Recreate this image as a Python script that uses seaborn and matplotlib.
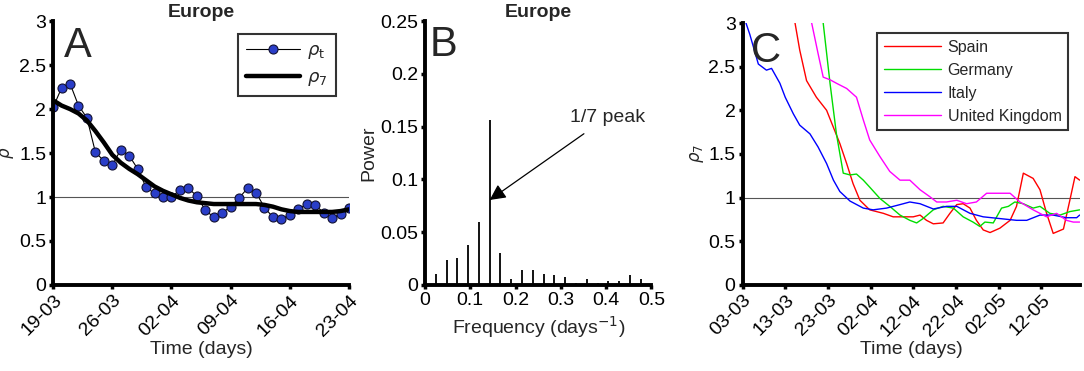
import numpy as np
import pandas as pd
import matplotlib
matplotlib.use("Agg")
import matplotlib.pyplot as plt
import seaborn as sns

# ---- Panel A: Europe rho_t and rho_7 (days since 19-03)
days_a = list(range(36))
rho_t = [2.02, 2.24, 2.29, 2.04, 1.90, 1.51, 1.41, 1.36, 1.54, 1.47, 1.32, 1.11,
         1.04, 1.00, 1.00, 1.08, 1.10, 1.01, 0.85, 0.77, 0.82, 0.89, 0.99, 1.10,
         1.05, 0.88, 0.77, 0.75, 0.80, 0.86, 0.92, 0.91, 0.82, 0.76, 0.81, 0.87]
rho_7 = [2.10, 2.04, 2.00, 1.95, 1.87, 1.75, 1.62, 1.48, 1.39, 1.32, 1.26, 1.19,
         1.12, 1.07, 1.03, 0.99, 0.96, 0.94, 0.93, 0.92, 0.92, 0.92, 0.92, 0.92,
         0.92, 0.91, 0.89, 0.86, 0.84, 0.83, 0.83, 0.83, 0.83, 0.83, 0.84, 0.86]
ticks_a = [0, 7, 14, 21, 28, 35]
labels_a = ["19-03", "26-03", "02-04", "09-04", "16-04", "23-04"]

# ---- Panel B: power spectrum
freq_b = [k / 42 for k in range(1, 21)]
power_b = [0.0105, 0.024, 0.0255, 0.038, 0.060, 0.156, 0.030, 0.0057, 0.0143, 0.0137,
           0.0105, 0.0096, 0.0073, 0.002, 0.0054, 0.0016, 0.0038, 0.0038, 0.0096, 0.0057]

# ---- Panel C: rho_7 by country (days since 03-03)
italy_d = [0.8, 1.7, 3.7, 5.6, 6.8, 8.75, 10, 11.9, 13.4, 15.8, 17.7, 19.7, 21.3, 22.8,
           25.2, 28.3, 30.6, 33.75, 36.9, 39.2, 41.6, 44.7, 47.8, 50.2, 53.3, 56.4,
           60.3, 64.2, 66.6, 69.7, 72.8, 75.9, 78.3, 79]
italy_v = [3.0, 2.87, 2.53, 2.46, 2.48, 2.31, 2.15, 1.96, 1.83, 1.73, 1.58, 1.39, 1.20, 1.07,
           0.96, 0.88, 0.86, 0.88, 0.92, 0.95, 0.93, 0.87, 0.90, 0.90, 0.82, 0.78,
           0.76, 0.74, 0.74, 0.80, 0.80, 0.77, 0.77, 0.80]
spain_d = [12.3, 13.4, 15, 17.3, 19.7, 21.25, 22.8, 24.4, 25.9, 27.5, 29.8, 33, 35.3, 37.7,
           40, 41.6, 43.1, 44.7, 47, 48.6, 50.2, 51.7, 53.3, 54.8, 56.4, 58, 60.3, 62.7,
           64.2, 65.8, 68.1, 69.7, 71.25, 72.8, 75.2, 76.7, 77.9, 79]
spain_v = [3.0, 2.69, 2.34, 2.15, 2.0, 1.81, 1.62, 1.39, 1.16, 0.97, 0.86, 0.82, 0.78, 0.78,
           0.78, 0.80, 0.74, 0.70, 0.71, 0.82, 0.92, 0.93, 0.88, 0.74, 0.63, 0.60, 0.65, 0.74,
           0.90, 1.28, 1.22, 1.09, 0.82, 0.59, 0.64, 0.97, 1.24, 1.20]
germany_d = [18.9, 20.5, 22, 23.6, 25.2, 26.7, 28.3, 29.8, 32.2, 34.5, 36.9, 39.2, 40.8,
             42.3, 44.7, 47, 49.4, 51.7, 54, 55.6, 56.8, 58.75, 60.7, 62.3, 63.8, 65.8,
             68.1, 69.7, 72, 74.4, 76.7, 79]
germany_v = [3.0, 2.31, 1.73, 1.28, 1.26, 1.27, 1.20, 1.12, 0.99, 0.90, 0.80, 0.74, 0.71,
             0.76, 0.86, 0.90, 0.88, 0.78, 0.72, 0.67, 0.72, 0.71, 0.88, 0.90, 0.95, 0.93,
             0.88, 0.90, 0.82, 0.80, 0.84, 0.86]
uk_d = [16.2, 17.7, 18.9, 20.5, 22, 24.4, 26.7, 28.3, 29.8, 32.2, 34.5, 36.9, 39.2, 41.6,
        43.9, 45.5, 47.8, 50.2, 52.5, 54.8, 57.2, 60.3, 62.7, 65, 68.1, 71.25, 73.6, 75.9,
        77.5, 79]
uk_v = [3.0, 2.65, 2.38, 2.35, 2.31, 2.25, 2.15, 1.89, 1.66, 1.47, 1.30, 1.20, 1.20, 1.09,
        1.01, 0.95, 0.95, 0.97, 0.93, 0.95, 1.05, 1.05, 1.05, 0.95, 0.86, 0.78, 0.82, 0.74,
        0.72, 0.72]
ticks_c = [0, 10, 20, 30, 40, 50, 60, 70]
labels_c = ["03-03", "13-03", "23-03", "02-04", "12-04", "22-04", "02-05", "12-05"]

sns.set_theme(style="ticks")
plt.rcParams["font.family"] = ["Liberation Sans", "DejaVu Sans"]
plt.rcParams["mathtext.fontset"] = "dejavusans"

FS = 14

fig = plt.figure(figsize=(10.84, 3.71), dpi=100)
axA = fig.add_axes([0.049, 0.232, 0.273, 0.711])
axB = fig.add_axes([0.392, 0.232, 0.209, 0.711])
axC = fig.add_axes([0.685, 0.232, 0.311, 0.706])


def style_axes(ax):
    sns.despine(ax=ax)
    for side in ["left", "bottom"]:
        ax.spines[side].set_linewidth(2.8)
        ax.spines[side].set_color("black")
    ax.tick_params(axis="both", direction="out", length=3, width=2.5,
                   labelsize=FS, colors="black", pad=2)
    ax.set_facecolor("white")


# Panel A
df_a = pd.DataFrame({"day": days_a, "rho_t": rho_t, "rho_7": rho_7})
axA.axhline(1, color="#555555", lw=0.8, zorder=1)
sns.lineplot(data=df_a, x="day", y="rho_t", ax=axA, color="black", lw=0.8,
             marker="o", markersize=6.5, markerfacecolor="#2a3ec8",
             markeredgecolor="#111133", markeredgewidth=0.8, label=r"$\rho_{\mathrm{t}}$")
sns.lineplot(data=df_a, x="day", y="rho_7", ax=axA, color="black", lw=3.2,
             label=r"$\rho_7$")
axA.set_xlim(0, 35)
axA.set_ylim(0, 3)
axA.set_xticks(ticks_a)
axA.set_xticklabels(labels_a, rotation=45, ha="right", rotation_mode="anchor")
axA.set_yticks([0, 0.5, 1, 1.5, 2, 2.5, 3])
axA.set_yticklabels(["0", "0.5", "1", "1.5", "2", "2.5", "3"])
axA.set_xlabel("Time (days)", fontsize=FS, labelpad=1)
axA.set_ylabel(r"$\rho$", fontsize=12)
axA.yaxis.set_label_coords(-0.125, 0.5)
axA.set_title("Europe", fontsize=FS, fontweight="bold", pad=3)
style_axes(axA)
leg = axA.legend(loc="upper right", bbox_to_anchor=(0.955, 0.951), borderaxespad=0,
                 frameon=True, fancybox=False, edgecolor="black", fontsize=13,
                 handlelength=3.0, borderpad=0.45, labelspacing=0.45, handletextpad=0.4)
leg.get_frame().set_linewidth(1.5)
axA.text(0.035, 0.98, "A", transform=axA.transAxes, fontsize=30, va="top", ha="left")

# Panel B
axB.vlines(freq_b, 0, power_b, color="black", lw=1.3)
axB.set_xlim(0, 0.5)
axB.set_ylim(0, 0.25)
axB.set_xticks([0, 0.1, 0.2, 0.3, 0.4, 0.5])
axB.set_xticklabels(["0", "0.1", "0.2", "0.3", "0.4", "0.5"])
axB.set_yticks([0, 0.05, 0.1, 0.15, 0.2, 0.25])
axB.set_yticklabels(["0", "0.05", "0.1", "0.15", "0.2", "0.25"])
axB.set_xlabel(r"Frequency (days$^{-1}$)", fontsize=FS, labelpad=4)
axB.set_ylabel("Power", fontsize=FS, labelpad=2)
axB.set_title("Europe", fontsize=FS, fontweight="bold", pad=3)
style_axes(axB)
axB.annotate("1/7 peak", xy=(1 / 7, 0.0805), xytext=(0.32, 0.159),
             fontsize=FS, ha="left", va="center",
             arrowprops=dict(arrowstyle="-|>", color="black", lw=0.9,
                             mutation_scale=24, shrinkA=6, shrinkB=0))
axB.text(0.02, 0.985, "B", transform=axB.transAxes, fontsize=30, va="top", ha="left")

# Panel C
axC.axhline(1, color="#555555", lw=0.8, zorder=1)
countries = [("Spain", spain_d, spain_v, "#ff0000"),
             ("Germany", germany_d, germany_v, "#00dd00"),
             ("Italy", italy_d, italy_v, "#0000ff"),
             ("United Kingdom", uk_d, uk_v, "#ff00ff")]
for name, d, v, col in countries:
    sns.lineplot(x=d, y=v, ax=axC, color=col, lw=1.0, label=name)
axC.set_xlim(0, 79)
axC.set_ylim(0, 3)
axC.set_xticks(ticks_c)
axC.set_xticklabels(labels_c, rotation=45, ha="right", rotation_mode="anchor")
axC.set_yticks([0, 0.5, 1, 1.5, 2, 2.5, 3])
axC.set_yticklabels(["0", "0.5", "1", "1.5", "2", "2.5", "3"])
axC.set_xlabel("Time (days)", fontsize=FS, labelpad=1)
axC.set_ylabel(r"$\rho_7$", fontsize=12, labelpad=2)
style_axes(axC)
leg = axC.legend(loc="upper right", bbox_to_anchor=(0.965, 0.961), borderaxespad=0,
                 frameon=True, fancybox=False, edgecolor="black", fontsize=11.5,
                 handlelength=3.6, borderpad=0.4, labelspacing=0.5, handletextpad=0.4)
leg.get_frame().set_linewidth(1.5)
axC.text(0.025, 0.97, "C", transform=axC.transAxes, fontsize=30, va="top", ha="left")

fig.savefig("out.png", dpi=100, facecolor="white")
